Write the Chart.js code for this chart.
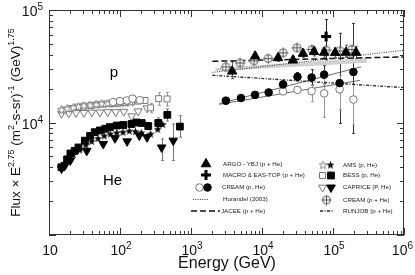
<!DOCTYPE html>
<html>
<head>
<meta charset="utf-8">
<script src="https://cdn.jsdelivr.net/npm/chart.js@4.4.1/dist/chart.umd.min.js"></script>
<style>
  html, body { margin: 0; padding: 0; background: #fff; }
</style>
</head>
<body>
<canvas id="flux-chart" width="415" height="275"></canvas>
<script>
// ---- data (energy in GeV, flux x E^2.75) ----
// low energy, protons (open symbols)
const amsP_E = [15, 18, 22, 26, 31, 38, 46, 55, 67, 82, 100, 120, 140];
const amsP_F = [13000, 13300, 13600, 13900, 14100, 14300, 14500, 14700, 14800, 14900, 15000, 15100, 15200];

const bessP_E = [16, 20, 25, 31, 39, 48, 60, 75, 93, 115, 145, 180, 225, 270, 350, 460];
const bessP_F = [12900, 13300, 13700, 14000, 14200, 14400, 14600, 14700, 14800, 15000, 15300, 15500, 15700, 13500, 16300, 16200];
const bessP_lo = [null, null, null, null, null, null, null, null, null, null, null, null, 14900, 12200, 14200, 14000];
const bessP_hi = [null, null, null, null, null, null, null, null, null, null, null, null, 16500, 14800, 18400, 18500];

const capP_E = [15, 19, 24, 31, 40, 52, 67, 87, 113, 146, 180, 240];
const capP_F = [12000, 12100, 12200, 12200, 12300, 12300, 12400, 12400, 12500, 11400, 12600, 13400];

const creamP_E = [80, 100, 125, 150, 190, 3100, 19800, 31600, 50000, 75000, 124000, 194000];
const creamP_F = [15200, 15500, 15700, 16300, 15800, 15700, 18900, 19500, 19000, 18150, 19700, 16000];
const creamP_lo = [null, null, null, null, null, 15000, 17800, 18200, 15300, 11100, 13000, 9500];
const creamP_hi = [null, null, null, null, null, 16400, 20000, 20800, 21400, 29100, 26000, 22000];

// low energy, helium (filled symbols)
const amsHe_E = [15, 18, 22, 27, 33, 40, 49, 60, 73, 90, 110, 135, 165, 200, 270, 340, 400];
const amsHe_F = [4100, 4700, 5200, 5700, 6300, 6800, 7200, 7600, 7900, 8100, 8200, 8400, 8300, 8100, 7900, 8700, 9600];

const bessHe_E = [15, 18, 20, 23, 26, 32, 38, 44, 52, 62, 72, 90, 111, 145, 171, 202, 250, 346, 464, 697];
const bessHe_F = [4000, 4700, 5300, 5600, 6000, 6900, 7600, 8200, 8500, 8800, 9100, 9400, 9500, 9700, 10000, 9900, 9300, 9900, 11700, 9200];
const bessHe_lo = [null, null, null, null, null, null, null, null, null, null, null, null, null, null, null, null, 8600, 8900, 10300, 7400];
const bessHe_hi = [null, null, null, null, null, null, null, null, null, null, null, null, null, null, null, null, 10000, 11000, 13200, 11500];

const capHe_E = [15, 17, 20, 34, 58, 85, 126, 187, 240, 386, 563];
const capHe_F = [3900, 4200, 4600, 5600, 6450, 7250, 6800, 7650, 7400, 6000, 6900];
const capHe_lo = [null, null, null, null, null, null, null, null, 6900, 4600, 4600];
const capHe_hi = [null, null, null, null, null, null, null, null, 7900, 7150, 9700];

// high energy
const argo_E = [3800, 8000, 16800, 27300, 37800, 54000, 75000, 107000, 152000, 211000];
const argo_F = [28500, 38800, 37500, 35800, 41000, 42500, 41900, 41600, 41900, 41900];
const argo_lo = [24500, 36000, 35000, 33500, 38000, 39000, 38000, 37500, 38000, 37000];
const argo_hi = [34600, 42000, 40500, 38500, 44500, 46500, 46000, 46000, 48700, 47500];

const creamPHe_E = [3100, 4900, 7700, 12200, 19800, 31100, 50600, 79700, 125500, 185000];
const creamPHe_F = [31200, 33800, 35300, 37000, 41600, 46100, 44600, 44000, 43300, 44600];
const creamPHe_lo = [29400, 31800, 33200, 34800, 39000, 43300, 41900, 41300, 40700, 41900];
const creamPHe_hi = [33000, 35800, 37400, 39200, 44200, 48900, 47300, 46700, 45900, 47300];

const creamHe_E = [3100, 5060, 7970, 12400, 19800, 31600, 50000, 75000, 124000, 194000];
const creamHe_F = [15600, 16500, 17600, 18500, 21800, 25500, 25100, 26600, 22400, 28100];
const creamHe_lo = [15000, 15900, 16800, 17500, 20300, 23500, 21500, 22000, 9800, 8000];
const creamHe_hi = [16200, 17100, 18400, 19500, 23300, 27800, 29500, 32000, 62000, 76000];

const macro_E = [80000];
const macro_F = [58000];
const macro_lo = [36000];
const macro_hi = [82000];

// model / fit lines
const horandel_E = [2000, 1000000];
const horandel_F = [27900, 43900];
const jacee_E = [2000, 1000000];
const jacee_F = [35000, 38300];
const runjob_E = [2000, 1000000];
const runjob_F = [26300, 20400];
const argoBand_E = [2200, 300000];
const argoBand_lo = [28500, 34000];
const argoBand_hi = [30500, 37500];
const creamHeFit_E = [2500, 250000];
const creamHeFit_F = [14700, 31300];
const creamPFit_E = [2500, 240000];
const creamPFit_F = [14500, 23700];

// axis ticks
const xTickValues = [10, 100, 1000, 10000, 100000, 1000000];
const xTickLabels = ['10', '10^2', '10^3', '10^4', '10^5', '10^6'];
const yTickValues = [10000, 100000];
const yTickLabels = ['10^4', '10^5'];

const FONT = '"Liberation Sans", Arial, Helvetica, sans-serif';

const toPts = (xs, ys) => xs.map((x, i) => ({ x: x, y: ys[i] }));

function makeStar(filled, color) {
    const c = document.createElement('canvas');
    c.width = 9; c.height = 9;
    const g = c.getContext('2d');
    const R = 4.2, r = 1.8;
    g.beginPath();
    for (let i = 0; i < 10; i++) {
        const a = -Math.PI / 2 + i * Math.PI / 5;
        const rr = i % 2 ? r : R;
        g.lineTo(4.5 + rr * Math.cos(a), 4.8 + rr * Math.sin(a));
    }
    g.closePath();
    if (filled) {
        g.fillStyle = color; g.fill();
    } else {
        g.fillStyle = '#fff'; g.fill();
        g.strokeStyle = color; g.lineWidth = 0.9; g.stroke();
    }
    return c;
}

function makeCircleCross(color) {
    const c = document.createElement('canvas');
    c.width = 11; c.height = 11;
    const g = c.getContext('2d');
    g.strokeStyle = color; g.lineWidth = 1;
    g.fillStyle = '#fff';
    g.beginPath(); g.arc(5.5, 5.5, 4, 0, Math.PI * 2); g.fill(); g.stroke();
    g.beginPath();
    g.moveTo(5.5, 0.5); g.lineTo(5.5, 10.5);
    g.moveTo(0.5, 5.5); g.lineTo(10.5, 5.5);
    g.stroke();
    return c;
}

const starOpen = makeStar(false, '#777');
const starFilled = makeStar(true, '#000');
const circleCross = makeCircleCross('#555');

function marks(label, xs, ys, style, lo, hi, errColor) {
    return Object.assign({
        label: label,
        data: toPts(xs, ys),
        showLine: false,
        order: 1,
        errLo: lo || null,
        errHi: hi || null,
        errColor: errColor || '#444'
    }, style);
}

function line(label, xs, ys, style) {
    return Object.assign({
        label: label,
        data: toPts(xs, ys),
        showLine: true,
        pointRadius: 0,
        fill: false,
        order: 5
    }, style);
}

// marker styles (also used by the legend)
const st = {
    argo: { pointStyle: 'triangle', pointRadius: 5.5, pointBackgroundColor: '#000', pointBorderColor: '#000', pointBorderWidth: 1 },
    macro: { pointStyle: 'cross', pointRadius: 5, pointBorderColor: '#000', pointBorderWidth: 3 },
    creamP: { pointStyle: 'circle', pointRadius: 3.8, pointBackgroundColor: '#fff', pointBorderColor: '#777', pointBorderWidth: 1 },
    creamHe: { pointStyle: 'circle', pointRadius: 3.8, pointBackgroundColor: '#000', pointBorderColor: '#000', pointBorderWidth: 1 },
    amsP: { pointStyle: starOpen, pointRadius: 4 },
    amsHe: { pointStyle: starFilled, pointRadius: 4 },
    bessP: { pointStyle: 'rect', pointRadius: 4.2, pointBackgroundColor: '#fff', pointBorderColor: '#777', pointBorderWidth: 1 },
    bessHe: { pointStyle: 'rect', pointRadius: 4.8, pointBackgroundColor: '#000', pointBorderColor: '#000', pointBorderWidth: 1 },
    capP: { pointStyle: 'triangle', pointRotation: 180, pointRadius: 4.6, pointBackgroundColor: '#fff', pointBorderColor: '#777', pointBorderWidth: 1 },
    capHe: { pointStyle: 'triangle', pointRotation: 180, pointRadius: 5, pointBackgroundColor: '#000', pointBorderColor: '#000', pointBorderWidth: 1 },
    creamPHe: { pointStyle: circleCross, pointRadius: 5 }
};

const lineStyles = {
    horandel: { borderColor: '#333', borderWidth: 1, borderDash: [1, 1.3] },
    jacee: { borderColor: '#111', borderWidth: 1.5, borderDash: [6, 3] },
    runjob: { borderColor: '#222', borderWidth: 1.3, borderDash: [3, 1.5, 1, 1.5] }
};

const datasets = [
    marks('MACRO & EAS-TOP (p + He)', macro_E, macro_F, st.macro, macro_lo, macro_hi, '#222'),
    marks('ARGO - YBJ (p + He)', argo_E, argo_F, st.argo, argo_lo, argo_hi, '#555'),
    marks('CREAM (p + He)', creamPHe_E, creamPHe_F, st.creamPHe, creamPHe_lo, creamPHe_hi, '#999'),
    marks('CREAM He', creamHe_E, creamHe_F, st.creamHe, creamHe_lo, creamHe_hi, '#333'),
    marks('CREAM p', creamP_E, creamP_F, st.creamP, creamP_lo, creamP_hi, '#999'),
    marks('CAPRICE He', capHe_E, capHe_F, st.capHe, capHe_lo, capHe_hi, '#777'),
    marks('BESS He', bessHe_E, bessHe_F, st.bessHe, bessHe_lo, bessHe_hi, '#777'),
    marks('AMS He', amsHe_E, amsHe_F, st.amsHe),
    marks('AMS p', amsP_E, amsP_F, st.amsP),
    marks('BESS p', bessP_E, bessP_F, st.bessP, bessP_lo, bessP_hi, '#999'),
    marks('CAPRICE p', capP_E, capP_F, st.capP),
    line('Horandel (2003)', horandel_E, horandel_F, lineStyles.horandel),
    line('JACEE (p + He)', jacee_E, jacee_F, lineStyles.jacee),
    line('RUNJOB (p + He)', runjob_E, runjob_F, lineStyles.runjob),
    line('CREAM He fit', creamHeFit_E, creamHeFit_F, { borderColor: '#444', borderWidth: 0.8 }),
    line('CREAM p fit', creamPFit_E, creamPFit_F, { borderColor: '#444', borderWidth: 0.8 }),
    line('band low', argoBand_E, argoBand_lo, { borderColor: 'rgba(0,0,0,0)', borderWidth: 0, order: 6 }),
    line('band high', argoBand_E, argoBand_hi, { borderColor: '#d0d0d0', borderWidth: 0, backgroundColor: '#d0d0d0', fill: '-1', order: 6 })
];

// vertical error bars from errLo / errHi
const errorBars = {
    id: 'errorBars',
    beforeDatasetsDraw(chart) {
        const { ctx, scales: { x, y } } = chart;
        ctx.save();
        ctx.lineWidth = 1;
        chart.data.datasets.forEach(ds => {
            if (!ds.errLo) return;
            ctx.strokeStyle = ds.errColor;
            ds.data.forEach((p, i) => {
                const lo = ds.errLo[i], hi = ds.errHi[i];
                if (lo == null || hi == null) return;
                const px = Math.round(x.getPixelForValue(p.x)) + 0.5;
                const y1 = y.getPixelForValue(lo), y2 = y.getPixelForValue(hi);
                ctx.beginPath();
                ctx.moveTo(px, y1); ctx.lineTo(px, y2);
                ctx.moveTo(px - 1.5, y1); ctx.lineTo(px + 1.5, y1);
                ctx.moveTo(px - 1.5, y2); ctx.lineTo(px + 1.5, y2);
                ctx.stroke();
            });
        });
        ctx.restore();
    }
};

// text with superscripts: parts = [[text, isSup], ...]
function richWidth(ctx, parts, size, supSize) {
    let w = 0;
    parts.forEach(([t, sup]) => {
        ctx.font = `${sup ? supSize : size}px ${FONT}`;
        w += ctx.measureText(t).width;
    });
    return w;
}

function drawRich(ctx, parts, x, y, size, supSize, rise) {
    parts.forEach(([t, sup]) => {
        ctx.font = `${sup ? supSize : size}px ${FONT}`;
        ctx.fillText(t, x, sup ? y - rise : y);
        x += ctx.measureText(t).width;
    });
}

function powParts(label) {
    const bits = label.split('^');
    return bits.length > 1 ? [[bits[0], false], [bits[1], true]] : [[bits[0], false]];
}

function logTicks(min, max) {
    const major = [], minor = [];
    for (let d = min; d <= max; d *= 10) {
        major.push(d);
        for (let k = 2; k <= 9 && d * k < max; k++) minor.push(d * k);
    }
    return { major, minor };
}

const frameAndText = {
    id: 'frameAndText',
    afterDraw(chart) {
        const { ctx, chartArea: a, scales: { x, y } } = chart;
        ctx.save();

        // frame
        ctx.strokeStyle = '#333';
        ctx.lineWidth = 1;
        ctx.strokeRect(a.left + 0.5, a.top + 0.5, a.right - a.left - 1, a.bottom - a.top - 1);

        // inward ticks on all four sides
        ctx.beginPath();
        const xt = logTicks(x.min, x.max);
        [[xt.major, 7], [xt.minor, 4]].forEach(([vals, len]) => {
            vals.forEach(v => {
                const px = Math.round(x.getPixelForValue(v)) + 0.5;
                ctx.moveTo(px, a.bottom); ctx.lineTo(px, a.bottom - len);
                ctx.moveTo(px, a.top); ctx.lineTo(px, a.top + len);
            });
        });
        const yt = logTicks(y.min, y.max);
        [[yt.major, 7], [yt.minor, 4]].forEach(([vals, len]) => {
            vals.forEach(v => {
                const py = Math.round(y.getPixelForValue(v)) + 0.5;
                ctx.moveTo(a.left, py); ctx.lineTo(a.left + len, py);
                ctx.moveTo(a.right, py); ctx.lineTo(a.right - len, py);
            });
        });
        ctx.stroke();

        // tick labels
        ctx.fillStyle = '#111';
        ctx.textBaseline = 'alphabetic';
        ctx.textAlign = 'left';
        xTickValues.forEach((v, i) => {
            const parts = powParts(xTickLabels[i]);
            const w = richWidth(ctx, parts, 14, 10);
            const px = x.getPixelForValue(v);
            const left = Math.min(px - w / 2 + 1, 413 - w);
            drawRich(ctx, parts, left, 255, 14, 10, 6);
        });
        yTickValues.forEach((v, i) => {
            const parts = powParts(yTickLabels[i]);
            const w = richWidth(ctx, parts, 14, 10);
            const py = y.getPixelForValue(v);
            drawRich(ctx, parts, 43 - w, py + 6, 14, 10, 6);
        });

        // axis titles
        ctx.font = `16px ${FONT}`;
        ctx.textAlign = 'center';
        ctx.fillText('Energy (GeV)', 227, 268);

        const yTitle = [['Flux \u00d7 E', false], ['2.75', true], [' (m', false], ['2', true],
            ['-s-sr)', false], ['-1', true], [' (GeV)', false], ['1.75', true]];
        ctx.textAlign = 'left';
        const tw = richWidth(ctx, yTitle, 13.5, 9);
        ctx.translate(20, 122.5);
        ctx.rotate(-Math.PI / 2);
        drawRich(ctx, yTitle, -tw / 2, 0, 13.5, 9, 6);
        ctx.setTransform(1, 0, 0, 1, 0, 0);

        // species labels
        ctx.font = `15px ${FONT}`;
        ctx.textAlign = 'center';
        ctx.fillStyle = '#000';
        ctx.fillText('p', 114, 77);
        ctx.fillText('He', 112.5, 185);

        drawLegend(ctx);
        ctx.restore();
    }
};

function legendMark(ctx, style, px, py) {
    ctx.save();
    ctx.fillStyle = style.pointBackgroundColor || '#000';
    ctx.strokeStyle = style.pointBorderColor || '#000';
    ctx.lineWidth = style.pointBorderWidth || 1;
    Chart.helpers.drawPoint(ctx, {
        pointStyle: style.pointStyle,
        radius: style.pointRadius,
        rotation: style.pointRotation || 0,
        borderWidth: style.pointBorderWidth || 0
    }, px, py);
    ctx.restore();
}

function legendLine(ctx, style, x1, x2, py) {
    ctx.save();
    ctx.strokeStyle = style.borderColor;
    ctx.lineWidth = style.borderWidth;
    ctx.setLineDash(style.borderDash || []);
    ctx.beginPath();
    ctx.moveTo(x1, py); ctx.lineTo(x2, py);
    ctx.stroke();
    ctx.restore();
}

function drawLegend(ctx) {
    const rows = [
        { text: 'ARGO - YBJ (p + He)', tx: 223, y: 164, marks: [[st.argo, 206]] },
        { text: 'MACRO & EAS-TOP (p + He)', tx: 223, y: 175, marks: [[st.macro, 206]] },
        { text: 'CREAM (p, He)', tx: 222, y: 187.5, marks: [[st.creamP, 199.5], [st.creamHe, 207.5]] },
        { text: 'Horandel (2003)', tx: 223, y: 199.5, line: [lineStyles.horandel, 193, 208] },
        { text: 'JACEE (p + He)', tx: 221, y: 211, line: [lineStyles.jacee, 191, 220] },
        { text: 'AMS (p, He)', tx: 343, y: 165, marks: [[st.amsP, 323], [st.amsHe, 330.5]] },
        { text: 'BESS (p, He)', tx: 343, y: 175.5, marks: [[st.bessP, 322.5], [st.bessHe, 331]] },
        { text: 'CAPRICE (P, He)', tx: 343, y: 187.5, marks: [[st.capP, 322.5], [st.capHe, 331]] },
        { text: 'CREAM (p + He)', tx: 343, y: 200, marks: [[st.creamPHe, 326.5]] },
        { text: 'RUNJOB (p + He)', tx: 343, y: 211, line: [lineStyles.runjob, 320, 334] }
    ];
    rows.forEach(r => {
        if (r.marks) r.marks.forEach(([s, mx]) => legendMark(ctx, s, mx, r.y));
        if (r.line) legendLine(ctx, r.line[0], r.line[1], r.line[2], r.y);
        ctx.font = `6.2px ${FONT}`;
        ctx.fillStyle = '#222';
        ctx.textAlign = 'left';
        ctx.textBaseline = 'middle';
        ctx.fillText(r.text, r.tx, r.y);
    });
}

const ctx = document.getElementById('flux-chart').getContext('2d');
new Chart(ctx, {
    type: 'scatter',
    data: { datasets: datasets },
    options: {
        responsive: false,
        animation: false,
        layout: { padding: { left: 49, right: 11, top: 10, bottom: 40 } },
        plugins: {
            legend: { display: false },
            tooltip: { enabled: false }
        },
        scales: {
            x: { type: 'logarithmic', min: 10, max: 1000000, display: false },
            y: { type: 'logarithmic', min: 1000, max: 100000, display: false }
        }
    },
    plugins: [errorBars, frameAndText]
});
</script>
</body>
</html>
